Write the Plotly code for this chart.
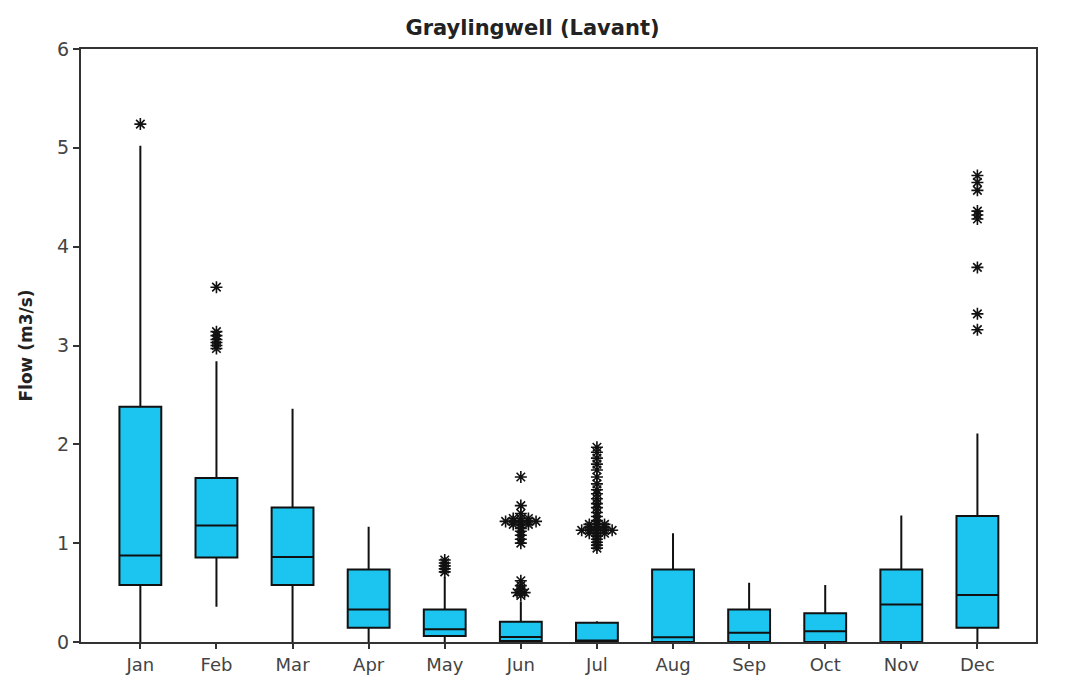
import plotly.graph_objects as go

months = ["Jan", "Feb", "Mar", "Apr", "May", "Jun", "Jul", "Aug", "Sep", "Oct", "Nov", "Dec"]
q1 = [0.576, 0.855, 0.576, 0.144, 0.06, 0.01, 0.005, 0.0, 0.0, 0.0, 0.0, 0.144]
median = [0.876, 1.18, 0.86, 0.33, 0.128, 0.05, 0.01, 0.047, 0.094, 0.108, 0.38, 0.475]
q3 = [2.38, 1.66, 1.36, 0.734, 0.33, 0.205, 0.195, 0.734, 0.33, 0.29, 0.734, 1.276]
lower_whisker = [0.0, 0.357, 0.0, 0.0, 0.0, 0.0, 0.0, 0.0, 0.0, 0.0, 0.0, 0.0]
upper_whisker = [5.02, 2.84, 2.36, 1.165, 0.66, 0.41, 0.21, 1.10, 0.60, 0.576, 1.28, 2.11]

# outliers per month: (value, number of tied observations)
outliers = {
    "Jan": [(5.24, 1)],
    "Feb": [(3.59, 1), (3.14, 1), (3.10, 1), (3.06, 1), (3.03, 1), (3.00, 1), (2.97, 1)],
    "May": [(0.83, 1), (0.80, 1), (0.77, 1), (0.74, 1), (0.71, 1)],
    "Jun": [(1.67, 1), (1.38, 1), (1.30, 1), (1.25, 3), (1.22, 5), (1.19, 3), (1.15, 1),
            (1.12, 1), (1.08, 1), (1.04, 1), (1.00, 1), (0.62, 1), (0.57, 1), (0.53, 1),
            (0.50, 2), (0.47, 1)],
    "Jul": [(1.97, 1), (1.92, 1), (1.86, 1), (1.80, 1), (1.74, 1), (1.67, 1), (1.60, 1),
            (1.54, 1), (1.50, 1), (1.45, 1), (1.40, 1), (1.36, 1), (1.31, 1), (1.27, 1),
            (1.23, 1), (1.19, 3), (1.16, 3), (1.13, 5), (1.10, 3), (1.07, 1), (1.04, 1),
            (1.01, 1), (0.98, 1), (0.95, 1)],
    "Dec": [(4.72, 1), (4.65, 1), (4.57, 1), (4.36, 1), (4.32, 1), (4.28, 1), (3.79, 1),
            (3.32, 1), (3.16, 1)],
}

y_ticks = [0, 1, 2, 3, 4, 5, 6]

FILL = "#1BC5EF"
FONT = "DejaVu Sans"

fig = go.Figure()

idx = list(range(len(months)))
fig.add_trace(go.Box(
    x=idx,
    q1=q1, median=median, q3=q3,
    lowerfence=lower_whisker, upperfence=upper_whisker,
    fillcolor=FILL,
    line=dict(color="#111111", width=2),
    width=0.55,
    whiskerwidth=0,
    boxpoints=False,
    showlegend=False,
    hoverinfo="skip",
))

ox, oy = [], []
tie_step = 0.1
for m, pts in outliers.items():
    i = months.index(m)
    for val, n in pts:
        for k in range(n):
            ox.append(i + (k - (n - 1) / 2) * tie_step)
            oy.append(val)

fig.add_trace(go.Scatter(
    x=ox, y=oy, mode="markers",
    marker=dict(symbol="asterisk-open", size=10, color="#111111",
                line=dict(color="#111111", width=1.6)),
    showlegend=False, hoverinfo="skip",
))

fig.update_layout(
    width=1065, height=698,
    margin=dict(l=81, r=29, t=49, b=56),
    paper_bgcolor="white", plot_bgcolor="white",
    title=dict(text="<b>Graylingwell (Lavant)</b>", x=0.5, xanchor="center",
               y=0.96, yanchor="middle",
               font=dict(family=FONT, size=21, color="#222222")),
    font=dict(family=FONT, color="#333333"),
)

fig.update_xaxes(
    range=[-0.78, 11.77],
    tickmode="array", tickvals=idx, ticktext=months,
    ticks="outside", ticklen=5, tickwidth=1.5, tickcolor="#333333",
    tickfont=dict(family=FONT, size=18, color="#444444"),
    showline=True, linecolor="#333333", linewidth=2, mirror=True,
    showgrid=False, zeroline=False,
)
fig.update_yaxes(
    range=[0, 6],
    tickmode="array", tickvals=y_ticks,
    ticks="outside", ticklen=6, tickwidth=1.5, tickcolor="#333333",
    tickfont=dict(family=FONT, size=19, color="#444444"),
    title=dict(text="<b>Flow (m3/s)</b>", font=dict(family=FONT, size=17, color="#222222"),
               standoff=20),
    showline=True, linecolor="#333333", linewidth=2, mirror=True,
    showgrid=False, zeroline=False,
)

fig.write_html("out.html")
